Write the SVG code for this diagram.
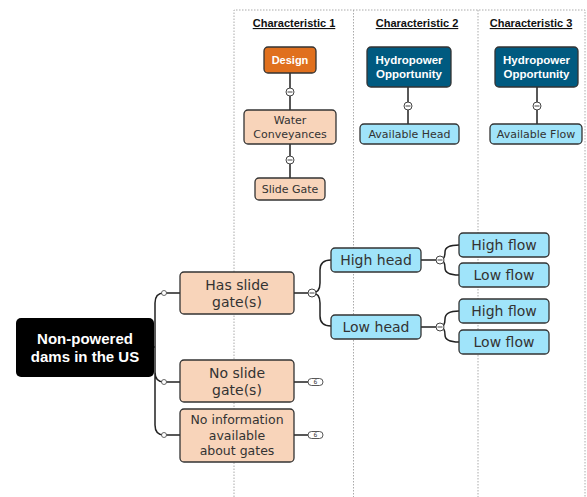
<svg xmlns="http://www.w3.org/2000/svg" width="587" height="497" viewBox="0 0 587 497">
<style>
text{font-family:"DejaVu Sans","Liberation Sans",sans-serif;text-anchor:middle;fill:#333}
.hdr{font-family:"Liberation Sans",Arial,sans-serif;font-size:11px;font-weight:bold;fill:#111;text-decoration:underline}
.wb{font-family:"Liberation Sans",Arial,sans-serif;fill:#fff;font-weight:bold}
.peach{fill:#F8D4BA;stroke:#333;stroke-width:1.3}
.blue{fill:#A0E4FA;stroke:#333;stroke-width:1.3}
.frame{fill:none;stroke:#aaa;stroke-width:1;stroke-dasharray:1.5,1.5}
.con{fill:none;stroke:#222;stroke-width:1.5}
.col{fill:#fff;stroke:#444;stroke-width:1}
.dot{fill:#fff;stroke:#444;stroke-width:0.8}
</style>
<rect width="587" height="497" fill="#fff"/>
<g id="frame">
<path class="frame" d="M234,497 V10 H585 V497 M353.5,10 V497 M478,10 V497"/>
<text class="hdr" x="294" y="27">Characteristic 1</text>
<text class="hdr" x="417" y="27">Characteristic 2</text>
<text class="hdr" x="531" y="27">Characteristic 3</text>
</g>
<g id="connectors">
<path class="con" d="M290,73 V110 M290,144 V178 M408,87 V124 M537,87 V124"/>
<path class="con" d="M154,347 H155 V303 Q155,293 164,293 H180 M155,347 V372 Q155,382 164,382 H180 M155,347 V425 Q155,435 164,435 H180"/>
<path class="con" d="M294,293 H312 M312,293 Q320,293 320,283 V270 Q320,260 331,260 M312,293 Q320,293 320,303 V316 Q320,326 331,326"/>
<path class="con" d="M421,260 H440 M440,260 Q445,260 445,252 Q445,245 459,245 M440,260 Q445,260 445,268 Q445,275 459,275"/>
<path class="con" d="M421,327 H440 M440,327 Q445,327 445,319 Q445,311 459,311 M440,327 Q445,327 445,335 Q445,342 459,342"/>
<path class="con" d="M294,382 H308 M294,435 H308"/>
<circle class="dot" cx="164" cy="293" r="2.5"/>
<circle class="dot" cx="164" cy="382" r="2.5"/>
<circle class="dot" cx="164" cy="435" r="2.5"/>
<g>
<circle class="col" cx="290" cy="92" r="4"/><path d="M287.5,92 H292.5" stroke="#444"/>
<circle class="col" cx="290" cy="160" r="4"/><path d="M287.5,160 H292.5" stroke="#444"/>
<circle class="col" cx="408" cy="106" r="4"/><path d="M405.5,106 H410.5" stroke="#444"/>
<circle class="col" cx="537" cy="106" r="4"/><path d="M534.5,106 H539.5" stroke="#444"/>
<circle class="col" cx="312" cy="293" r="4"/><path d="M309.5,293 H314.5" stroke="#444"/>
<circle class="col" cx="440" cy="260" r="4"/><path d="M437.5,260 H442.5" stroke="#444"/>
<circle class="col" cx="440" cy="327" r="4"/><path d="M437.5,327 H442.5" stroke="#444"/>
</g>
<rect x="308" y="378.5" width="15" height="7" rx="3.5" fill="#fff" stroke="#444" stroke-width="0.9"/>
<text x="315.5" y="384" style="font-size:6px">6</text>
<rect x="308" y="431.5" width="15" height="7" rx="3.5" fill="#fff" stroke="#444" stroke-width="0.9"/>
<text x="315.5" y="437" style="font-size:6px">6</text>
</g>
<g id="design">
<rect x="264" y="47" width="52" height="26" rx="4" fill="#E0701E" stroke="#333" stroke-width="1.3"/>
<text class="wb" x="290" y="64" style="font-size:11px">Design</text>
</g>
<g id="hydro1">
<rect x="367" y="47" width="84" height="40" rx="4" fill="#005A80" stroke="#333" stroke-width="1.3"/>
<text class="wb" x="409" y="64" style="font-size:11.5px">Hydropower</text>
<text class="wb" x="409" y="78" style="font-size:11.5px">Opportunity</text>
</g>
<g id="hydro2">
<rect x="495" y="47" width="83" height="40" rx="4" fill="#005A80" stroke="#333" stroke-width="1.3"/>
<text class="wb" x="536.5" y="64" style="font-size:11.5px">Hydropower</text>
<text class="wb" x="536.5" y="78" style="font-size:11.5px">Opportunity</text>
</g>
<g id="water">
<rect class="peach" x="244" y="110" width="92" height="34" rx="4"/>
<text x="290" y="124" style="font-size:11px">Water</text>
<text x="290" y="138" style="font-size:11px">Conveyances</text>
</g>
<g id="availhead">
<rect class="blue" x="360" y="124" width="99" height="20" rx="4"/>
<text x="409.5" y="138" style="font-size:11px">Available Head</text>
</g>
<g id="availflow">
<rect class="blue" x="490" y="124" width="92" height="20" rx="4"/>
<text x="536" y="138" style="font-size:11px">Available Flow</text>
</g>
<g id="slidegate">
<rect class="peach" x="255" y="178" width="70" height="22" rx="4"/>
<text x="290" y="193" style="font-size:11px">Slide Gate</text>
</g>
<g id="root">
<rect x="16" y="318" width="138" height="59" rx="5" fill="#000"/>
<text class="wb" x="85" y="344" style="font-size:15px">Non-powered</text>
<text class="wb" x="85" y="362" style="font-size:15px">dams in the US</text>
</g>
<g id="hasgate">
<rect class="peach" x="180" y="272" width="114" height="42" rx="4"/>
<text x="237" y="290" style="font-size:14px">Has slide</text>
<text x="237" y="307" style="font-size:14px">gate(s)</text>
</g>
<g id="nogate">
<rect class="peach" x="180" y="360" width="114" height="42" rx="4"/>
<text x="237" y="378" style="font-size:14px">No slide</text>
<text x="237" y="395" style="font-size:14px">gate(s)</text>
</g>
<g id="noinfo">
<rect class="peach" x="180" y="409" width="114" height="53" rx="4"/>
<text x="237" y="424" style="font-size:12.5px">No information</text>
<text x="237" y="440" style="font-size:12.5px">available</text>
<text x="237" y="455" style="font-size:12.5px">about gates</text>
</g>
<g id="highhead">
<rect class="blue" x="331" y="248" width="90" height="24" rx="4"/>
<text x="376" y="265" style="font-size:14px">High head</text>
</g>
<g id="lowhead">
<rect class="blue" x="331" y="315" width="90" height="24" rx="4"/>
<text x="376" y="332" style="font-size:14px">Low head</text>
</g>
<g id="highflow1">
<rect class="blue" x="459" y="233" width="90" height="24" rx="4"/>
<text x="504" y="250" style="font-size:14px">High flow</text>
</g>
<g id="lowflow1">
<rect class="blue" x="459" y="263" width="90" height="24" rx="4"/>
<text x="504" y="280" style="font-size:14px">Low flow</text>
</g>
<g id="highflow2">
<rect class="blue" x="459" y="299" width="90" height="24" rx="4"/>
<text x="504" y="316" style="font-size:14px">High flow</text>
</g>
<g id="lowflow2">
<rect class="blue" x="459" y="330" width="90" height="24" rx="4"/>
<text x="504" y="347" style="font-size:14px">Low flow</text>
</g>
</svg>
